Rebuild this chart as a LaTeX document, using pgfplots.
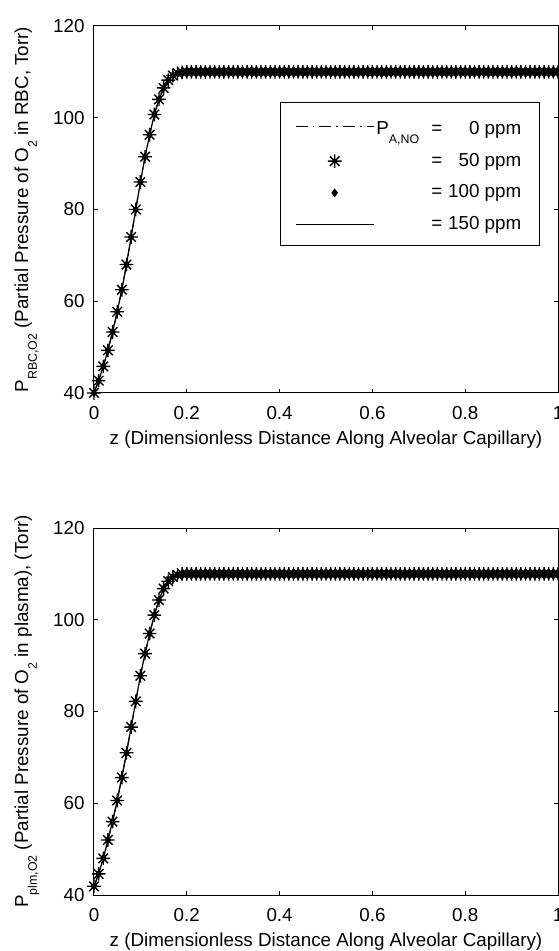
\documentclass[border=0pt]{standalone}
\usepackage{fontspec}
\setmainfont{Liberation Sans}
\usepackage{pgfplots}
\usepackage{pgfplotstable}
\pgfplotsset{compat=1.18}

\newcommand{\fsz}{\fontsize{9.4}{11}\selectfont}
% subscripts sit fully below the baseline, as in the MATLAB original
\newcommand{\lo}[1]{\raisebox{-4.3pt}{\fontsize{6.2}{6.2}\selectfont #1}}
\newcommand{\legrow}[2]{\makebox[74pt][l]{\makebox[27.5pt][l]{#1}=\hfill #2\hspace{1.5pt}}}

% MATLAB style '*' marker: plus and cross
\pgfdeclareplotmark{matstar}{%
  \pgfpathmoveto{\pgfqpoint{-\pgfplotmarksize}{0pt}}%
  \pgfpathlineto{\pgfqpoint{\pgfplotmarksize}{0pt}}%
  \pgfpathmoveto{\pgfqpoint{0pt}{-\pgfplotmarksize}}%
  \pgfpathlineto{\pgfqpoint{0pt}{\pgfplotmarksize}}%
  \pgfpathmoveto{\pgfqpoint{-0.7\pgfplotmarksize}{-0.7\pgfplotmarksize}}%
  \pgfpathlineto{\pgfqpoint{0.7\pgfplotmarksize}{0.7\pgfplotmarksize}}%
  \pgfpathmoveto{\pgfqpoint{-0.7\pgfplotmarksize}{0.7\pgfplotmarksize}}%
  \pgfpathlineto{\pgfqpoint{0.7\pgfplotmarksize}{-0.7\pgfplotmarksize}}%
  \pgfusepathqstroke}

% P_RBC,O2 along the capillary (all four NO levels coincide)
\pgfplotstableread[row sep=\\]{
z p\\
0 40\\ 0.01 42.7\\ 0.02 45.8\\ 0.03 49.3\\ 0.04 53.3\\ 0.05 57.7\\
0.06 62.5\\ 0.07 68.0\\ 0.08 74.0\\ 0.09 80.0\\ 0.10 86.0\\
0.11 91.5\\ 0.12 96.3\\ 0.13 100.7\\ 0.14 104.0\\ 0.15 106.5\\
0.16 108.2\\ 0.17 109.2\\ 0.18 109.7\\ 0.19 109.9\\ 0.20 110\\
0.21 110\\ 0.22 110\\ 0.23 110\\ 0.24 110\\ 0.25 110\\ 0.26 110\\ 0.27 110\\ 0.28 110\\ 0.29 110\\ 0.30 110\\
0.31 110\\ 0.32 110\\ 0.33 110\\ 0.34 110\\ 0.35 110\\ 0.36 110\\ 0.37 110\\ 0.38 110\\ 0.39 110\\ 0.40 110\\
0.41 110\\ 0.42 110\\ 0.43 110\\ 0.44 110\\ 0.45 110\\ 0.46 110\\ 0.47 110\\ 0.48 110\\ 0.49 110\\ 0.50 110\\
0.51 110\\ 0.52 110\\ 0.53 110\\ 0.54 110\\ 0.55 110\\ 0.56 110\\ 0.57 110\\ 0.58 110\\ 0.59 110\\ 0.60 110\\
0.61 110\\ 0.62 110\\ 0.63 110\\ 0.64 110\\ 0.65 110\\ 0.66 110\\ 0.67 110\\ 0.68 110\\ 0.69 110\\ 0.70 110\\
0.71 110\\ 0.72 110\\ 0.73 110\\ 0.74 110\\ 0.75 110\\ 0.76 110\\ 0.77 110\\ 0.78 110\\ 0.79 110\\ 0.80 110\\
0.81 110\\ 0.82 110\\ 0.83 110\\ 0.84 110\\ 0.85 110\\ 0.86 110\\ 0.87 110\\ 0.88 110\\ 0.89 110\\ 0.90 110\\
0.91 110\\ 0.92 110\\ 0.93 110\\ 0.94 110\\ 0.95 110\\ 0.96 110\\ 0.97 110\\ 0.98 110\\ 0.99 110\\ 1.00 110\\
}\rbctab

% P_plm,O2 (plasma)
\pgfplotstableread[row sep=\\]{
z p\\
0 41.9\\ 0.01 44.6\\ 0.02 48.0\\ 0.03 52.0\\ 0.04 56.0\\ 0.05 60.6\\
0.06 65.6\\ 0.07 71.0\\ 0.08 76.6\\ 0.09 82.2\\ 0.10 87.8\\
0.11 92.6\\ 0.12 97.0\\ 0.13 101.0\\ 0.14 104.3\\ 0.15 106.8\\
0.16 108.4\\ 0.17 109.3\\ 0.18 109.8\\ 0.19 110\\ 0.20 110\\
0.21 110\\ 0.22 110\\ 0.23 110\\ 0.24 110\\ 0.25 110\\ 0.26 110\\ 0.27 110\\ 0.28 110\\ 0.29 110\\ 0.30 110\\
0.31 110\\ 0.32 110\\ 0.33 110\\ 0.34 110\\ 0.35 110\\ 0.36 110\\ 0.37 110\\ 0.38 110\\ 0.39 110\\ 0.40 110\\
0.41 110\\ 0.42 110\\ 0.43 110\\ 0.44 110\\ 0.45 110\\ 0.46 110\\ 0.47 110\\ 0.48 110\\ 0.49 110\\ 0.50 110\\
0.51 110\\ 0.52 110\\ 0.53 110\\ 0.54 110\\ 0.55 110\\ 0.56 110\\ 0.57 110\\ 0.58 110\\ 0.59 110\\ 0.60 110\\
0.61 110\\ 0.62 110\\ 0.63 110\\ 0.64 110\\ 0.65 110\\ 0.66 110\\ 0.67 110\\ 0.68 110\\ 0.69 110\\ 0.70 110\\
0.71 110\\ 0.72 110\\ 0.73 110\\ 0.74 110\\ 0.75 110\\ 0.76 110\\ 0.77 110\\ 0.78 110\\ 0.79 110\\ 0.80 110\\
0.81 110\\ 0.82 110\\ 0.83 110\\ 0.84 110\\ 0.85 110\\ 0.86 110\\ 0.87 110\\ 0.88 110\\ 0.89 110\\ 0.90 110\\
0.91 110\\ 0.92 110\\ 0.93 110\\ 0.94 110\\ 0.95 110\\ 0.96 110\\ 0.97 110\\ 0.98 110\\ 0.99 110\\ 1.00 110\\
}\plmtab

\pgfplotsset{
  matax/.style={
    scale only axis, width=232pt, height=183.5pt,
    xmin=0, xmax=1, ymin=40, ymax=120,
    xtick={0,0.2,0.4,0.6,0.8,1}, xticklabels={0,0.2,0.4,0.6,0.8,1},
    ytick={40,60,80,100,120}, yticklabels={40,60,80,100,120},
    tick align=inside, major tick length=2pt,
    axis line style={line width=0.5pt},
    every tick/.style={black, line width=0.5pt},
    tick label style={font=\fsz},
    xticklabel style={anchor=north, inner sep=0pt, yshift=-6.5pt},
    yticklabel style={anchor=east, inner sep=0pt, xshift=-4.5pt},
    every axis x label/.style={at={(axis description cs:0.5,0)}, anchor=north,
      inner sep=0pt, yshift=-18.5pt, font=\fsz},
    every axis y label/.style={at={(axis description cs:-0.172,0.5)}, rotate=90,
      anchor=north, inner sep=0pt, font=\fsz},
    legend image code/.code={\draw[mark repeat=2,mark phase=2,#1]
      plot coordinates {(0pt,0pt) (19.5pt,0pt) (39pt,0pt)};},
  },
  dashdot/.style={black, line width=0.55pt, dash pattern=on 6pt off 2.5pt on 0.8pt off 2.5pt},
  stars/.style={black, only marks, mark=matstar, mark size=3.4pt, line width=0.7pt},
  dots/.style={black, only marks, mark=diamond*, mark size=1.8pt},
  solidl/.style={black, line width=0.6pt},
}

\begin{document}
\begin{tikzpicture}
% upper panel: red blood cells
\begin{axis}[matax, at={(0pt,251pt)}, anchor=south west,
  xlabel={z (Dimensionless Distance Along Alveolar Capillary)},
  ylabel={P\lo{RBC,O2} (Partial Pressure of O\lo{2} in RBC, Torr)},
  legend style={at={(axis description cs:0.4,0.793)}, anchor=north west,
    draw=black, line width=0.5pt, fill=white, font=\fsz,
    inner xsep=7.5pt, inner ysep=6.5pt, row sep=7.8pt, column sep=1pt,
    nodes={inner sep=0pt}},
  legend cell align=left,
]
\addplot[dashdot] table[x=z, y=p] {\rbctab};
\addlegendentry{\rule[-7pt]{0pt}{16.5pt}\legrow{P\lo{A,NO} }{0 ppm}}
\addplot[stars] table[x=z, y=p] {\rbctab};
\addlegendentry{\legrow{}{50 ppm}}
\addplot[dots] table[x=z, y=p] {\rbctab};
\addlegendentry{\legrow{}{100 ppm}}
\addplot[solidl] table[x=z, y=p] {\rbctab};
\addlegendentry{\legrow{}{150 ppm}}
\end{axis}

% lower panel: plasma
\begin{axis}[matax, at={(0pt,0pt)}, anchor=south west,
  xlabel={z (Dimensionless Distance Along Alveolar Capillary)},
  ylabel={P\lo{plm,O2} (Partial Pressure of O\lo{2} in plasma), (Torr)},
]
\addplot[dashdot] table[x=z, y=p] {\plmtab};
\addplot[stars] table[x=z, y=p] {\plmtab};
\addplot[dots] table[x=z, y=p] {\plmtab};
\addplot[solidl] table[x=z, y=p] {\plmtab};
\end{axis}

\pgfresetboundingbox
\path[use as bounding box] (-47pt,-28pt) rectangle (232.2pt,447.5pt);
\end{tikzpicture}
\end{document}
